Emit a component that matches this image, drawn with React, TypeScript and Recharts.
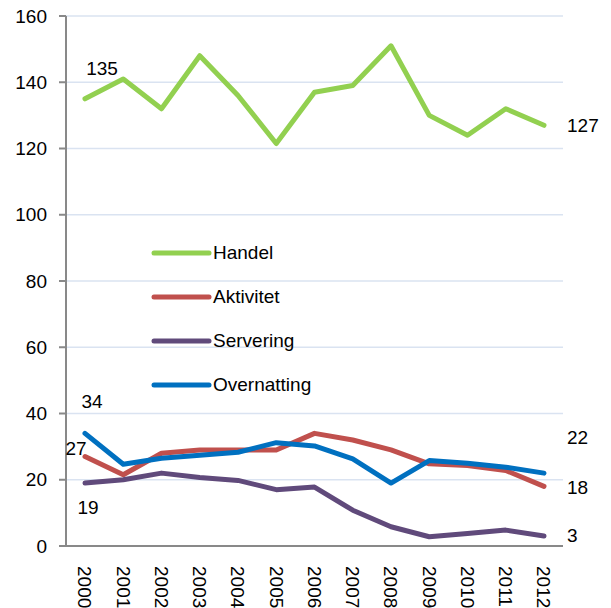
import React from 'react';
import { LineChart, Line, CartesianGrid, XAxis, YAxis, LabelList } from 'recharts';

const years = ['2000', '2001', '2002', '2003', '2004', '2005', '2006', '2007', '2008', '2009', '2010', '2011', '2012'];
const handel = [135, 141, 132, 148, 136, 121.5, 137, 139, 151, 130, 124, 132, 127];
const aktivitet = [27, 21.5, 28, 29, 29, 29, 34, 32, 29, 24.8, 24.3, 22.8, 18];
const servering = [19, 20, 22, 20.7, 19.8, 17, 17.8, 10.8, 5.8, 2.8, 3.8, 4.8, 3];
const overnatting = [34, 24.7, 26.5, 27.4, 28.3, 31.2, 30.2, 26.3, 19, 25.8, 25, 23.8, 22];
const yTicks = [0, 20, 40, 60, 80, 100, 120, 140, 160];

const seriesNames = ['Handel', 'Aktivitet', 'Servering', 'Overnatting'];
const seriesColors = ['#92D050', '#C0504D', '#604A7B', '#0070C0'];

const data = years.map((year, i) => ({
  year,
  Handel: handel[i],
  Aktivitet: aktivitet[i],
  Servering: servering[i],
  Overnatting: overnatting[i],
}));

const font = '"Liberation Sans", Arial, sans-serif';
const fontSize = 19;
const axisColor = '#898989';
const gridColor = '#DAE3F1';

// offsets for the first / last point labels of each series
type LabelPos = { dx: number; dy: number; anchor: 'start' | 'middle' | 'end' };
const labelPos: Record<string, { first: LabelPos; last: LabelPos }> = {
  Handel: { first: { dx: 17, dy: -24, anchor: 'middle' }, last: { dx: 23, dy: 7, anchor: 'start' } },
  Aktivitet: { first: { dx: -9, dy: -2, anchor: 'middle' }, last: { dx: 23, dy: 8, anchor: 'start' } },
  Servering: { first: { dx: 3, dy: 31, anchor: 'middle' }, last: { dx: 23, dy: 6, anchor: 'start' } },
  Overnatting: { first: { dx: 7, dy: -25, anchor: 'middle' }, last: { dx: 23, dy: -29, anchor: 'start' } },
};

const makeLabel = (name: string) => (props: any) => {
  const { x, y, value, index } = props;
  let pos: LabelPos | null = null;
  if (index === 0) pos = labelPos[name].first;
  if (index === years.length - 1) pos = labelPos[name].last;
  if (!pos) return null;
  return (
    <text x={x + pos.dx} y={y + pos.dy} textAnchor={pos.anchor} fill='#000' fontSize={fontSize} fontFamily={font}>
      {Math.round(value)}
    </text>
  );
};

const YearTick = (props: any) => {
  const { x, y, payload } = props;
  return (
    <text
      transform={`translate(${x},${y + 12}) rotate(90)`}
      x={0}
      y={0}
      dy='0.35em'
      textAnchor='start'
      fill='#000'
      fontSize={fontSize}
      fontFamily={font}
    >
      {payload.value}
    </text>
  );
};

// legend sits inside the plot area, so it is drawn as an overlay
const LegendBox = () => (
  <div style={{ position: 'absolute', left: 151, top: 231, fontFamily: font, fontSize, color: '#000' }}>
    {seriesNames.map((name, i) => (
      <div key={name} style={{ display: 'flex', alignItems: 'center', height: 44 }}>
        <svg width={62} height={10}>
          <line x1={3} y1={5} x2={58} y2={5} stroke={seriesColors[i]} strokeWidth={5} strokeLinecap='round' />
        </svg>
        <span>{name}</span>
      </div>
    ))}
  </div>
);

const App: React.FC = () => {
  return (
    <div style={{ position: 'absolute', left: 0, top: 0, width: 611, height: 608, background: '#fff' }}>
      <LineChart width={611} height={608} data={data} margin={{ top: 16, right: 48, left: 0, bottom: 2 }}>
        <CartesianGrid vertical={false} stroke={gridColor} strokeWidth={1.5} />
        <XAxis
          dataKey='year'
          interval={0}
          height={60}
          padding={{ left: 19, right: 19 }}
          tickLine={false}
          stroke={axisColor}
          strokeWidth={2}
          tick={<YearTick />}
        />
        <YAxis
          width={66}
          domain={[0, 160]}
          ticks={yTicks}
          interval={0}
          stroke={axisColor}
          strokeWidth={2}
          tickSize={7}
          tickMargin={12}
          tick={{ fill: '#000', fontSize, fontFamily: font }}
        />
        {seriesNames.map((name, i) => (
          <Line
            key={name}
            type='linear'
            dataKey={name}
            stroke={seriesColors[i]}
            strokeWidth={5}
            strokeLinecap='round'
            strokeLinejoin='round'
            dot={false}
            activeDot={false}
            isAnimationActive={false}
          >
            <LabelList dataKey={name} content={makeLabel(name)} />
          </Line>
        ))}
      </LineChart>
      <LegendBox />
    </div>
  );
};

export default App;
